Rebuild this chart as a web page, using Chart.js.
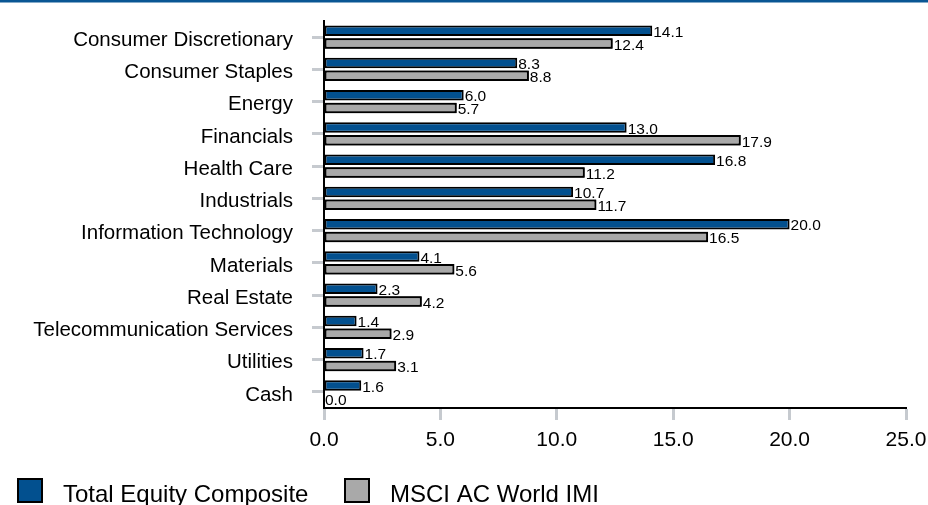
<!DOCTYPE html>
<html>
<head>
<meta charset="utf-8">
<script src="https://cdn.jsdelivr.net/npm/chart.js@4.4.1/dist/chart.umd.min.js"></script>
<style>
  html, body { margin: 0; padding: 0; background: #ffffff; }
  #wrap { width: 928px; height: 505px; position: relative; }
</style>
</head>
<body>
<div id="wrap"><canvas id="chart"></canvas></div>
<script>
// Sector weights (%)
const sectors = [
  'Consumer Discretionary', 'Consumer Staples', 'Energy', 'Financials',
  'Health Care', 'Industrials', 'Information Technology', 'Materials',
  'Real Estate', 'Telecommunication Services', 'Utilities', 'Cash'
];
const compositeWeights = [14.1, 8.3, 6.0, 13.0, 16.8, 10.7, 20.0, 4.1, 2.3, 1.4, 1.7, 1.6];
const benchmarkWeights = [12.4, 8.8, 5.7, 17.9, 11.2, 11.7, 16.5, 5.6, 4.2, 2.9, 3.1, 0.0];
const seriesNames = ['Total Equity Composite', 'MSCI AC World IMI'];
const xTicks = [0, 5, 10, 15, 20, 25];

const FONT = '"Liberation Sans", Arial, Helvetica, sans-serif';
const BLUE = '#02508f';
const GREY = '#a9a9a9';
const TICK_GREY = '#c6cacf';

// Blue rule across the top of the page
const topRule = {
  id: 'topRule',
  beforeDraw(chart) {
    const ctx = chart.ctx;
    ctx.save();
    ctx.fillStyle = '#0a5694';
    ctx.fillRect(0, 0, chart.width, 2.5);
    ctx.restore();
  }
};

// Value text at the end of each bar; the composite labels sit beneath
// the benchmark bars, so those bars are painted again over them.
const barValues = {
  id: 'barValues',
  afterDatasetsDraw(chart) {
    const ctx = chart.ctx;
    const writeLabels = (d) => {
      const ds = chart.data.datasets[d];
      ctx.save();
      ctx.font = '15.5px ' + FONT;
      ctx.fillStyle = '#000000';
      ctx.textAlign = 'left';
      ctx.textBaseline = 'middle';
      chart.getDatasetMeta(d).data.forEach((bar, i) => {
        ctx.fillText(ds.data[i].toFixed(1), bar.x + 1, bar.y + 2);
      });
      ctx.restore();
    };
    writeLabels(0);
    chart.getDatasetMeta(1).data.forEach(el => el.draw(ctx, chart.chartArea));
    writeLabels(1);
  }
};

// Legend along the bottom edge
const bottomLegend = {
  id: 'bottomLegend',
  afterDraw(chart) {
    const ctx = chart.ctx;
    const items = [
      { x: 17, textX: 63 },
      { x: 344, textX: 390 }
    ];
    ctx.save();
    ctx.font = '24px ' + FONT;
    ctx.textAlign = 'left';
    ctx.textBaseline = 'alphabetic';
    chart.data.datasets.forEach((ds, i) => {
      const it = items[i];
      ctx.fillStyle = ds.backgroundColor;
      ctx.fillRect(it.x, 478, 26, 25);
      ctx.lineWidth = 2;
      ctx.strokeStyle = '#000000';
      ctx.strokeRect(it.x + 1, 479, 24, 23);
      ctx.fillStyle = '#000000';
      ctx.fillText(ds.label, it.textX, 502);
    });
    ctx.restore();
  }
};

new Chart(document.getElementById('chart'), {
  type: 'bar',
  data: {
    labels: sectors,
    datasets: [
      {
        label: seriesNames[0],
        data: compositeWeights,
        backgroundColor: BLUE,
        borderColor: '#000000',
        borderWidth: 2,
        borderSkipped: false
      },
      {
        label: seriesNames[1],
        data: benchmarkWeights,
        backgroundColor: GREY,
        borderColor: '#000000',
        borderWidth: 2,
        borderSkipped: false
      }
    ]
  },
  options: {
    indexAxis: 'y',
    responsive: true,
    maintainAspectRatio: false,
    animation: false,
    categoryPercentage: 0.8,
    barPercentage: 0.82,
    layout: { padding: { top: 21, right: 22, bottom: 52, left: 0 } },
    plugins: {
      legend: { display: false },
      tooltip: { enabled: false }
    },
    scales: {
      x: {
        type: 'linear',
        min: 0,
        max: 25,
        afterBuildTicks(scale) {
          scale.ticks = xTicks.map(v => ({ value: v }));
        },
        afterFit(scale) {
          scale.height = 45;
          scale.paddingLeft = 0;
          scale.paddingRight = 0;
        },
        border: { display: true, color: '#000000', width: 2 },
        grid: {
          drawOnChartArea: false,
          drawTicks: true,
          tickLength: 12,
          tickWidth: 3,
          tickColor: TICK_GREY
        },
        ticks: {
          color: '#000000',
          font: { family: FONT, size: 21 },
          padding: 8,
          maxRotation: 0,
          callback: v => Number(v).toFixed(1)
        }
      },
      y: {
        afterFit(scale) {
          scale.width = 324;
          scale.paddingTop = 0;
          scale.paddingBottom = 0;
        },
        border: { display: true, color: '#000000', width: 2 },
        grid: {
          offset: false,
          drawOnChartArea: false,
          drawTicks: true,
          tickLength: 12,
          tickWidth: 3,
          tickColor: TICK_GREY
        },
        ticks: {
          color: '#000000',
          font: { family: FONT, size: 20.5 },
          padding: 19,
          labelOffset: 3
        }
      }
    }
  },
  plugins: [topRule, barValues, bottomLegend]
});
</script>
</body>
</html>
